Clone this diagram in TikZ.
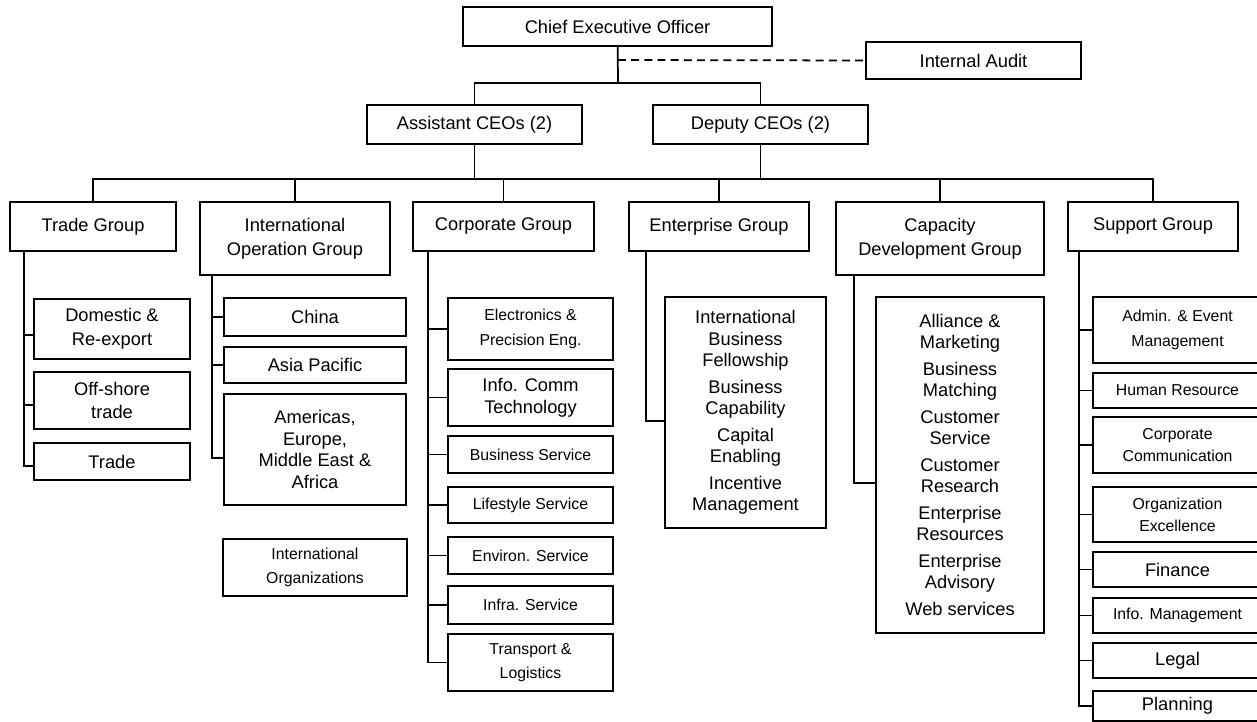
\documentclass[tikz,border=0pt]{standalone}
\usepackage{fontspec}
\setmainfont{Liberation Sans}
\usepackage{tikz}
\tikzstyle{unit}=[draw, line width=1.1pt, align=center, inner sep=0pt, font=\fontsize{10.4}{13.6}\selectfont]
\tikzstyle{subunit}=[unit, font=\fontsize{9}{14}\selectfont]
\tikzstyle{listunit}=[unit, font=\fontsize{10.4}{12}\selectfont]
\tikzstyle{link}=[draw=black, line width=1pt]

\begin{document}
\begin{tikzpicture}[x=0.02cm, y=-0.02cm]
	\clip (0,0) rectangle (1257,722);
	\fill[white] (0,0) rectangle (1257,722);
	\begin{scope}
		\node (ceo) at (617.5,26.5)[unit, minimum width=6.18cm, minimum height=0.78cm] {Chief Executive Officer};
		\node (ia) at (973.5,60.5)[unit, minimum width=4.3cm, minimum height=0.74cm] {Internal Audit};
		\node (asst) at (474.5,124.5)[unit, minimum width=4.3cm, minimum height=0.78cm] {Assistant CEOs (2)};
		\node (dep) at (760.5,124.5)[unit, minimum width=4.3cm, minimum height=0.78cm] {Deputy CEOs (2)};

		\node (g1) at (93,226.5)[unit, minimum width=3.32cm, minimum height=0.98cm] {Trade Group};
		\node (g2) at (295,238.5)[unit, minimum width=3.8cm, minimum height=1.46cm] {International\\Operation Group};
		\node (g3) at (503.5,226.5)[unit, minimum width=3.62cm, minimum height=0.98cm] {Corporate Group};
		\node (g4) at (719,226.5)[unit, minimum width=3.6cm, minimum height=0.98cm] {Enterprise Group};
		\node (g5) at (940,238.5)[unit, minimum width=4.16cm, minimum height=1.46cm] {Capacity\\Development Group};
		\node (g6) at (1153,226.5)[unit, minimum width=3.4cm, minimum height=0.98cm] {Support Group};

		\node (a1) at (112,329)[unit, minimum width=3.12cm, minimum height=1.2cm] {Domestic \&\\Re-export};
		\node (a2) at (112,400.5)[unit, minimum width=3.12cm, minimum height=1.14cm] {Off-shore\\trade};
		\node (a3) at (112,461.5)[unit, minimum width=3.12cm, minimum height=0.74cm] {Trade};

		\node (b1) at (315,317)[unit, minimum width=3.64cm, minimum height=0.76cm] {China};
		\node (b2) at (315,365)[unit, minimum width=3.64cm, minimum height=0.72cm] {Asia Pacific};
		\node (b3) at (315,449.5)[unit, minimum width=3.64cm, minimum height=2.22cm, font=\fontsize{10.4}{12.4}\selectfont] {Americas,\\Europe,\\Middle East \&\\Africa};
		\node (b4) at (315,567.5)[subunit, minimum width=3.68cm, minimum height=1.14cm] {International\\Organizations};

		\node (c1) at (530.5,329)[subunit, minimum width=3.3cm, minimum height=1.24cm] {Electronics \&\\Precision Eng.};
		\node (c2) at (530.5,397.5)[unit, minimum width=3.3cm, minimum height=1.14cm, font=\fontsize{10.4}{12.4}\selectfont] {Info. Comm\\Technology};
		\node (c3) at (530.5,454.5)[subunit, minimum width=3.3cm, minimum height=0.74cm] {Business Service};
		\node (c4) at (530.5,505)[subunit, minimum width=3.3cm, minimum height=0.72cm] {Lifestyle Service};
		\node (c5) at (530.5,555.5)[subunit, minimum width=3.3cm, minimum height=0.74cm] {Environ. Service};
		\node (c6) at (530.5,605)[subunit, minimum width=3.3cm, minimum height=0.76cm] {Infra. Service};
		\node (c7) at (530.5,662.5)[subunit, minimum width=3.3cm, minimum height=1.14cm] {Transport \&\\Logistics};

		\node (d1) at (745.5,412.5)[listunit, minimum width=3.22cm, minimum height=4.62cm] {International\\Business\\Fellowship\\[3.4pt]Business\\Capability\\[3.4pt]Capital\\Enabling\\[3.4pt]Incentive\\Management};

		\node (e1) at (960,465)[listunit, minimum width=3.36cm, minimum height=6.72cm] {Alliance \&\\Marketing\\[3.4pt]Business\\Matching\\[3.4pt]Customer\\Service\\[3.4pt]Customer\\Research\\[3.4pt]Enterprise\\Resources\\[3.4pt]Enterprise\\Advisory\\[3.4pt]Web services};

		\node (f1) at (1177.5,330)[subunit, minimum width=3.38cm, minimum height=1.32cm] {Admin. \& Event\\Management};
		\node (f2) at (1177.5,390.5)[subunit, minimum width=3.38cm, minimum height=0.7cm] {Human Resource};
		\node (f3) at (1177.5,445)[subunit, minimum width=3.38cm, minimum height=1.12cm, font=\fontsize{9}{12.4}\selectfont] {Corporate\\Communication};
		\node (f4) at (1177.5,514.5)[subunit, minimum width=3.38cm, minimum height=1.1cm, font=\fontsize{9}{12.4}\selectfont] {Organization\\Excellence};
		\node (f5) at (1177.5,569.5)[unit, minimum width=3.38cm, minimum height=0.7cm] {Finance};
		\node (f6) at (1177.5,615.5)[subunit, minimum width=3.38cm, minimum height=0.7cm] {Info. Management};
		\node (f7) at (1177.5,660.5)[unit, minimum width=3.38cm, minimum height=0.7cm] {Legal};
		\node (f8) at (1177.5,706)[unit, minimum width=3.38cm, minimum height=0.6cm] {Planning};

		\coordinate (top) at (618,83);
		\coordinate (dash) at (618,60);
		\coordinate (bl) at (93,179);
		\coordinate (br) at (1153,179);
		\coordinate (a0) at (24,251);
		\coordinate (b0) at (212,275);
		\coordinate (c0) at (428,251);
		\coordinate (d0) at (646,251);
		\coordinate (e0) at (854,275);
		\coordinate (f0) at (1079,251);
	\end{scope}
	\begin{scope}[every path/.style={link}]
		\path [-] (ceo) edge (top);
		\draw (asst.north) |- (top) -| (dep.north);
		\path [-, dash pattern=on 4.5pt off 3pt, line width=1.4pt] (dash) edge (ia.west);

		\path [-] (asst.south) edge (asst.south |- bl);
		\path [-] (dep.south) edge (dep.south |- bl);
		\draw (g1.north) -- (bl) -- (br) -- (g6.north);
		\path [-] (g2.north) edge (g2.north |- bl);
		\path [-] (g3.north) edge (g3.north |- bl);
		\path [-] (g4.north) edge (g4.north |- bl);
		\path [-] (g5.north) edge (g5.north |- bl);

		\draw (a0) |- ([yshift=-0.12cm]a1.west);
		\draw (a0) |- ([yshift=-0.09cm]a2.west);
		\draw (a0) |- ([yshift=-0.09cm]a3.west);

		\draw (b0) |- (b1.west);
		\draw (b0) |- (b2.west);
		\draw (b0) |- ([yshift=-0.17cm]b3.west);

		\draw (c0) |- (c1.west);
		\draw (c0) |- (c2.west);
		\draw (c0) |- (c3.west);
		\draw (c0) |- (c4.west);
		\draw (c0) |- (c5.west);
		\draw (c0) |- (c6.west);
		\draw (c0) |- (c7.west);

		\draw (d0) |- ([yshift=-0.17cm]d1.west);
		\draw (e0) |- ([yshift=-0.36cm]e1.west);

		\draw (f0) |- (f1.west);
		\draw (f0) |- (f2.west);
		\draw (f0) |- (f3.west);
		\draw (f0) |- (f4.west);
		\draw (f0) |- (f5.west);
		\draw (f0) |- (f6.west);
		\draw (f0) |- (f7.west);
		\draw (f0) |- (f8.west);
	\end{scope}
\end{tikzpicture}
\end{document}
